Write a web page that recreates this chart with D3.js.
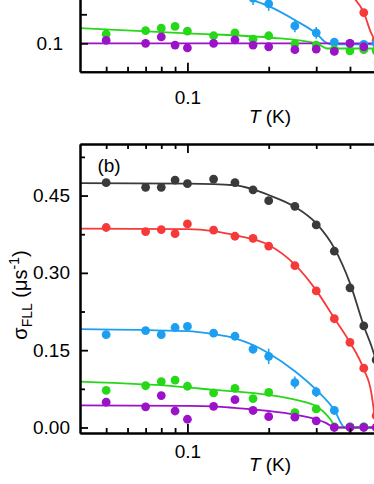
<!DOCTYPE html>
<meta charset="utf-8">
<style>
body { margin: 0; background: #fff; }
svg { display: block; font-family: "Liberation Sans", Arial, sans-serif; }
.axis path, .axis line { stroke: #000; stroke-width: 1.8; }
.axis path { stroke-width: 2; }
.axis text { font-size: 19px; fill: #000; font-family: "Liberation Sans", Arial, sans-serif; }
</style>
<svg width="374" height="484"></svg>
<script src="https://cdn.jsdelivr.net/npm/d3@7"></script>
<script>

// temperatures (K) of the measured points
var temps = [0.05, 0.07, 0.08, 0.09, 0.1, 0.125, 0.15, 0.175, 0.2, 0.25, 0.3, 0.35, 0.4, 0.45, 0.5];

// panel (b): sigma_FLL (us^-1), one value per temperature, null = not shown
var blackB  = [0.475, 0.466, 0.466, 0.480, 0.473, 0.482, 0.475, 0.461, 0.440, 0.429, 0.393, 0.342, 0.271, 0.197, 0.131];
var redB    = [0.388, 0.380, 0.384, 0.376, 0.395, 0.383, 0.371, 0.367, 0.352, 0.314, 0.265, 0.211, 0.165, 0.115, 0.023];
var blueB   = [0.180, 0.188, 0.180, 0.194, 0.196, 0.183, 0.177, 0.152, 0.138, 0.087, 0.069, 0.033, 0.001, 0.001, null];
var greenB  = [0.072, 0.081, 0.089, 0.092, 0.080, 0.067, 0.076, 0.056, 0.068, 0.029, 0.036, 0.001, 0.001, 0.001, null];
var purpleB = [0.049, 0.040, 0.062, 0.032, 0.016, 0.041, 0.054, 0.033, 0.021, 0.020, 0.013, 0.000, 0.000, 0.000, 0.000];
var blueErrB = [0, 0, 0, 0, 0, 0, 0, 0.009, 0.015, 0.012, 0.010, 0.004, 0, 0, 0];

// panel (a): only its lower edge is in view
var redA    = [null, null, null, null, null, null, null, null, null, null, null, null, null, 0.153, 0.105];
var blueA   = [null, null, null, null, null, null, null, 0.178, 0.168, 0.130, 0.118, 0.102, 0.100, 0.098, 0.100];
var greenA  = [0.116, 0.122, 0.126, 0.129, 0.121, 0.113, 0.118, 0.107, 0.113, 0.099, 0.097, 0.089, 0.087, 0.089, 0.087];
var purpleA = [0.105, 0.100, 0.111, 0.097, 0.092, 0.100, 0.106, 0.097, 0.094, 0.089, 0.090, 0.086, 0.100, 0.094, null];
var blueErrA = [0, 0, 0, 0, 0, 0, 0, 0.012, 0.012, 0.011, 0.010, 0.004, 0, 0, 0];

// fitted curves as [T, value]
var fitBlackB  = [[0.04, 0.474], [0.1, 0.473], [0.15, 0.470], [0.175, 0.462], [0.2, 0.451], [0.25, 0.428], [0.3, 0.396], [0.35, 0.348], [0.4, 0.280], [0.45, 0.197], [0.49, 0.144], [0.52, 0.09]];
var fitRedB    = [[0.04, 0.386], [0.1, 0.385], [0.125, 0.381], [0.15, 0.373], [0.2, 0.354], [0.25, 0.316], [0.3, 0.266], [0.35, 0.212], [0.4, 0.165], [0.45, 0.113], [0.48, 0.067], [0.49, 0.034], [0.5, 0.0]];
var fitBlueB   = [[0.04, 0.191], [0.1, 0.187], [0.125, 0.181], [0.15, 0.173], [0.175, 0.160], [0.2, 0.144], [0.25, 0.109], [0.3, 0.073], [0.35, 0.034], [0.383, 0.0], [0.6, 0.0]];
var fitGreenB  = [[0.04, 0.089], [0.1, 0.078], [0.125, 0.073], [0.15, 0.070], [0.2, 0.063], [0.25, 0.054], [0.3, 0.041], [0.327, 0.025], [0.346, 0.008], [0.352, 0.0], [0.6, 0.0]];
var fitPurpleB = [[0.04, 0.043], [0.1, 0.042], [0.125, 0.041], [0.15, 0.038], [0.2, 0.032], [0.25, 0.025], [0.3, 0.016], [0.327, 0.0085], [0.35, 0.0], [0.6, 0.0]];

var fitRedA    = [[0.41, 0.180], [0.45, 0.153], [0.48, 0.117], [0.51, 0.100], [0.6, 0.100]];
var fitBlueA   = [[0.16, 0.180], [0.2, 0.164], [0.25, 0.140], [0.3, 0.117], [0.33, 0.100], [0.35, 0.098], [0.6, 0.098]];
var fitGreenA  = [[0.04, 0.126], [0.1, 0.117], [0.2, 0.110], [0.3, 0.100], [0.33, 0.091], [0.6, 0.091]];
var fitPurpleA = [[0.04, 0.100], [0.6, 0.100]];

var colors = { black: "#3a3a3a", red: "#f63a3a", blue: "#1c9ff0", green: "#27d818", purple: "#9b12c9" };

var xMajor = [0.1];
var xMinor = [0.05, 0.06, 0.07, 0.08, 0.09, 0.2, 0.3, 0.4, 0.5, 0.6, 0.7, 0.8, 0.9];
var yMajorB = [0, 0.15, 0.30, 0.45];
var yMinorB = [0.075, 0.225, 0.375, 0.525];
var yMajorA = [0.1];
var yMinorA = [0.15];

var svg = d3.select("svg");

var x = d3.scaleLog().domain([0.04, 1]).range([80, 457.4]);
var yB = d3.scaleLinear().domain([-0.0107, 0.550]).range([433, 144]);
var yA = d3.scaleLinear().domain([0.051, 0.2]).range([71.7, -14.7]);

function drawAxes(y, bottom, top, labelPad, yLabelPad, yMajor, yMinor, yMinorLen, yFmt) {
  var g = svg.append("g");
  g.append("g").attr("class", "axis").attr("transform", "translate(0," + bottom + ")")
      .call(d3.axisBottom(x).tickValues(xMinor).tickSizeInner(-5).tickSizeOuter(0).tickFormat(""));
  g.append("g").attr("class", "axis").attr("transform", "translate(0," + bottom + ")")
      .call(d3.axisBottom(x).tickValues(xMajor).tickSizeInner(-9).tickSizeOuter(0)
        .tickPadding(labelPad).tickFormat(d3.format("~g")));
  if (top != null) {
    g.append("g").attr("class", "axis").attr("transform", "translate(0," + top + ")")
        .call(d3.axisTop(x).tickValues(xMinor).tickSizeInner(-5).tickSizeOuter(0).tickFormat(""));
    g.append("g").attr("class", "axis").attr("transform", "translate(0," + top + ")")
        .call(d3.axisTop(x).tickValues(xMajor).tickSizeInner(-9).tickSizeOuter(0).tickFormat(""));
  }
  g.append("g").attr("class", "axis").attr("transform", "translate(80,0)")
      .call(d3.axisLeft(y).tickValues(yMinor).tickSizeInner(-yMinorLen).tickSizeOuter(0).tickFormat(""));
  g.append("g").attr("class", "axis").attr("transform", "translate(80,0)")
      .call(d3.axisLeft(y).tickValues(yMajor).tickSizeInner(-8).tickSizeOuter(0)
        .tickPadding(yLabelPad).tickFormat(yFmt));
}

function drawSeries(y, fits, series, errs) {
  var line = d3.line()
      .x(function(d) { return x(d[0]); })
      .y(function(d) { return y(d[1]); })
      .curve(d3.curveMonotoneX);

  Object.keys(series).forEach(function(k) {
    if (fits[k]) {
      svg.append("path")
          .datum(fits[k])
          .attr("d", line)
          .attr("fill", "none")
          .attr("stroke", colors[k])
          .attr("stroke-width", 1.8);
    }
  });

  Object.keys(series).forEach(function(k) {
    var pts = temps.map(function(t, i) { return { t: t, v: series[k][i], e: errs[k] ? errs[k][i] : 0 }; })
        .filter(function(d) { return d.v != null; });

    svg.append("g").selectAll("line")
      .data(pts.filter(function(d) { return d.e > 0; }))
      .enter().append("line")
        .attr("x1", function(d) { return x(d.t); })
        .attr("x2", function(d) { return x(d.t); })
        .attr("y1", function(d) { return y(d.v - d.e); })
        .attr("y2", function(d) { return y(d.v + d.e); })
        .attr("stroke", colors[k])
        .attr("stroke-width", 1.5);

    svg.append("g").selectAll("circle")
      .data(pts)
      .enter().append("circle")
        .attr("cx", function(d) { return x(d.t); })
        .attr("cy", function(d) { return y(d.v); })
        .attr("r", 4.4)
        .attr("fill", colors[k]);
  });
}

// panel (a), lower part
drawSeries(yA,
  { red: fitRedA, blue: fitBlueA, green: fitGreenA, purple: fitPurpleA },
  { red: redA, blue: blueA, green: greenA, purple: purpleA },
  { blue: blueErrA });
drawAxes(yA, 71.7, null, 19, 17, yMajorA, yMinorA, 7, d3.format(".1f"));

// panel (b)
drawSeries(yB,
  { black: fitBlackB, red: fitRedB, blue: fitBlueB, green: fitGreenB, purple: fitPurpleB },
  { black: blackB, red: redB, blue: blueB, green: greenB, purple: purpleB },
  { blue: blueErrB });
drawAxes(yB, 433, 144, 12, 10, yMajorB, yMinorB, 5, d3.format(".2f"));

// axis titles
[123, 471].forEach(function(yy) {
  var t = svg.append("text")
      .attr("x", 270).attr("y", yy)
      .attr("text-anchor", "middle")
      .attr("font-size", 19);
  t.append("tspan").attr("font-style", "italic").text("T");
  t.append("tspan").text(" (K)");
});

svg.append("text")
    .attr("x", 109).attr("y", 172)
    .attr("text-anchor", "middle")
    .attr("font-size", 19)
    .text("(b)");

var yl = svg.append("text")
    .attr("transform", "translate(27,295) rotate(-90)")
    .attr("text-anchor", "middle")
    .attr("font-size", 20);
yl.append("tspan").text("σ");
yl.append("tspan").attr("font-size", 14).attr("dy", 5).text("FLL");
yl.append("tspan").attr("dy", -5).text(" (μs");
yl.append("tspan").attr("font-size", 14).attr("dy", -8).text("-1");
yl.append("tspan").attr("dy", 8).text(")");

</script>
